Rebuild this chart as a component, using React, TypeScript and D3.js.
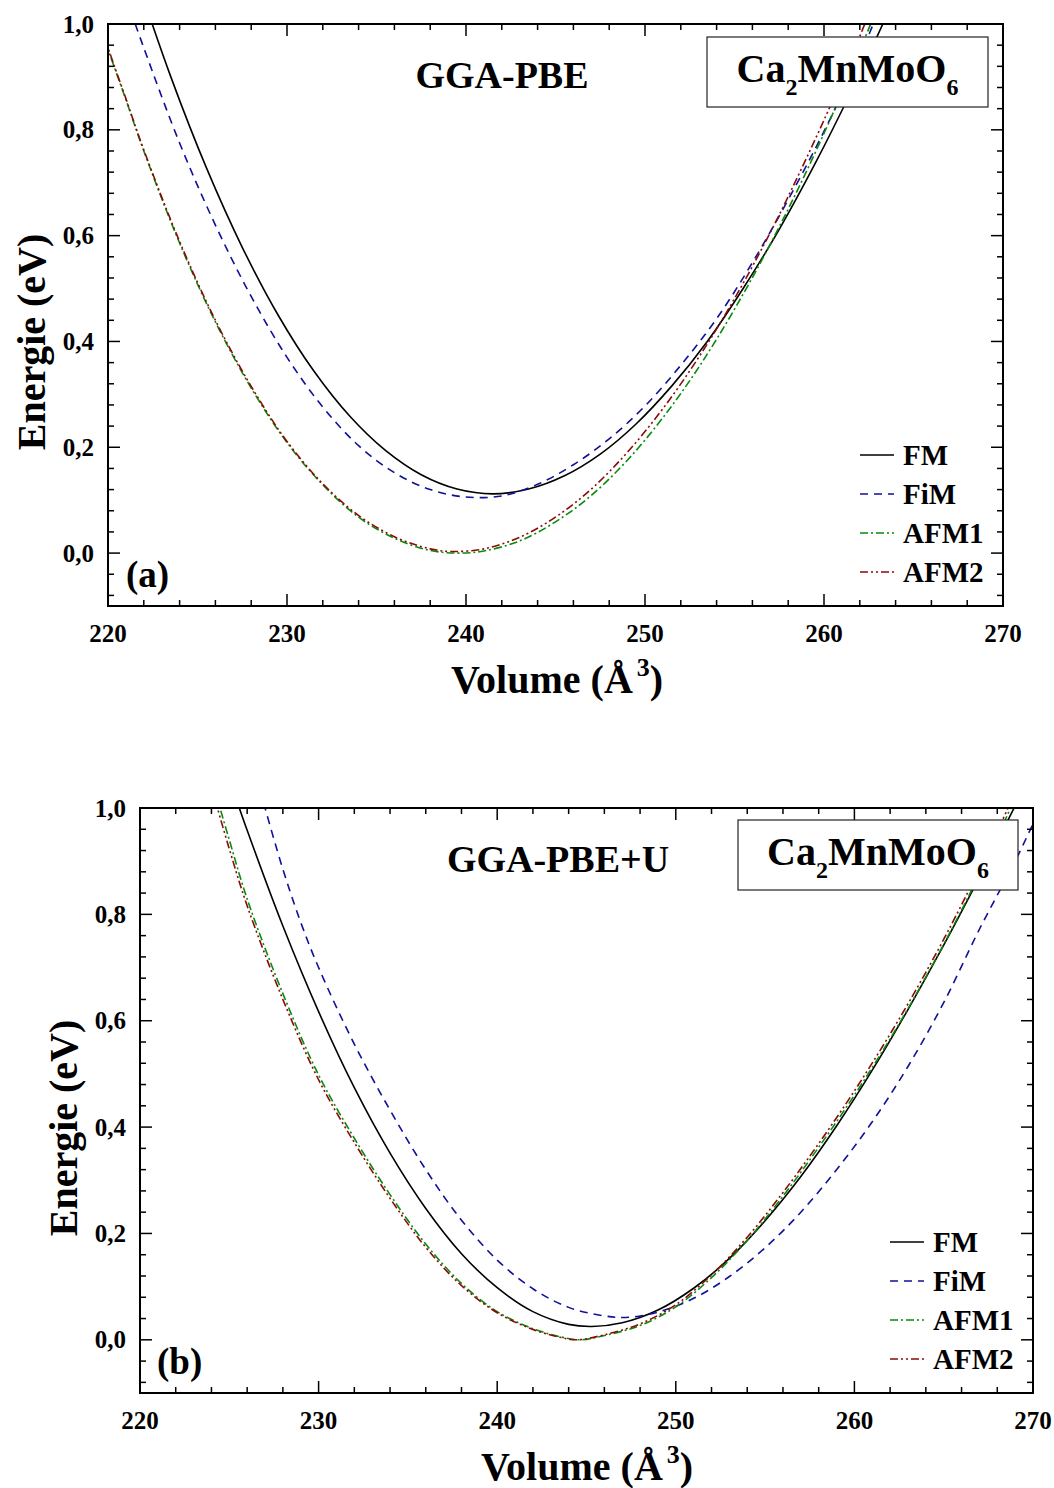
import React from 'react';
import * as d3 from 'd3';

const xTickValues = [220, 230, 240, 250, 260, 270];
const xTickLabels = ['220', '230', '240', '250', '260', '270'];
const yTickValues = [0, 0.2, 0.4, 0.6, 0.8, 1.0];
const yTickLabels = ['0,0', '0,2', '0,4', '0,6', '0,8', '1,0'];
const seriesNames = ['FM', 'FiM', 'AFM1', 'AFM2'];

// Panel (a): GGA-PBE
const volA_FM = [221.5, 223.5, 225.5, 227.5, 229.5, 231.5, 233.5, 235.5, 237.5, 239.5, 241.5, 243.5, 245.5, 247.5, 249.5, 251.5, 253.5, 255.5, 257.5, 259.5, 261.5, 263.5, 264.5];
const enA_FM = [1.097, 0.901, 0.728, 0.578, 0.45, 0.344, 0.259, 0.194, 0.148, 0.121, 0.112, 0.121, 0.146, 0.187, 0.244, 0.316, 0.401, 0.501, 0.612, 0.736, 0.871, 1.016, 1.093];
const volA_FiM = [221, 222, 224, 226, 228, 230, 232, 234, 236, 238, 240, 242, 244, 246, 248, 250, 252, 254, 256, 258, 260, 262, 263, 264];
const enA_FiM = [1.05, 0.955, 0.775, 0.62, 0.485, 0.37, 0.276, 0.203, 0.152, 0.12, 0.106, 0.108, 0.13, 0.167, 0.216, 0.278, 0.355, 0.443, 0.549, 0.668, 0.797, 0.94, 1.02, 1.1];
const volA_AFM1 = [219, 220, 221, 222, 224, 226, 228, 230, 232, 234, 236, 238, 239.6, 241, 243, 245, 247, 249, 251, 253, 255, 257, 259, 261, 263, 264];
const enA_AFM1 = [1.05, 0.952, 0.857, 0.76, 0.586, 0.437, 0.312, 0.209, 0.129, 0.068, 0.028, 0.005, 0.0, 0.004, 0.023, 0.059, 0.109, 0.175, 0.256, 0.351, 0.461, 0.584, 0.72, 0.87, 1.033, 1.12];
const volA_AFM2 = [219, 220, 221, 222, 224, 226, 228, 230, 232, 234, 236, 238, 239.2, 241, 243, 245, 247, 249, 251, 253, 255, 257, 259, 261, 263, 264];
const enA_AFM2 = [1.055, 0.955, 0.859, 0.762, 0.589, 0.44, 0.315, 0.211, 0.131, 0.071, 0.031, 0.008, 0.003, 0.008, 0.03, 0.068, 0.121, 0.19, 0.273, 0.37, 0.481, 0.606, 0.745, 0.895, 1.06, 1.14];

// Panel (b): GGA-PBE+U
const volB_FM = [224.5, 225, 226, 228, 230, 232, 234, 236, 238, 240, 242, 244, 245.3, 247, 249, 251, 253, 255, 257, 259, 261, 263, 265, 267, 269, 270];
const enB_FM = [1.1, 1.054, 0.958, 0.778, 0.617, 0.474, 0.351, 0.247, 0.162, 0.098, 0.053, 0.029, 0.025, 0.032, 0.056, 0.097, 0.153, 0.224, 0.307, 0.402, 0.507, 0.621, 0.742, 0.87, 1.004, 1.07];
const volB_FiM = [226.5, 227, 228, 229, 230, 232, 234, 236, 238, 240, 242, 244, 246, 247.2, 249, 251, 253, 255, 257, 259, 261, 263, 265, 267, 269, 270, 271];
const enB_FiM = [1.06, 1.0, 0.885, 0.785, 0.7, 0.556, 0.432, 0.32, 0.225, 0.15, 0.096, 0.061, 0.045, 0.042, 0.052, 0.078, 0.119, 0.173, 0.24, 0.32, 0.41, 0.514, 0.634, 0.772, 0.9, 0.97, 1.04];
const volB_AFM1 = [223.5, 224, 225, 226, 228, 230, 232, 234, 236, 238, 240, 242, 243.5, 244.6, 246, 248, 250, 252, 254, 256, 258, 260, 262, 264, 266, 268, 269];
const enB_AFM1 = [1.11, 1.055, 0.94, 0.829, 0.651, 0.498, 0.379, 0.273, 0.18, 0.106, 0.053, 0.021, 0.006, 0.0, 0.008, 0.027, 0.062, 0.117, 0.187, 0.27, 0.362, 0.46, 0.566, 0.682, 0.808, 0.945, 1.02];
const volB_AFM2 = [223.5, 224, 225, 226, 228, 230, 232, 234, 236, 238, 240, 242, 243.5, 244.45, 246, 248, 250, 252, 254, 256, 258, 260, 262, 264, 266, 268, 269];
const enB_AFM2 = [1.09, 1.038, 0.923, 0.816, 0.64, 0.489, 0.371, 0.266, 0.174, 0.102, 0.051, 0.0195, 0.005, 0.0, 0.0095, 0.03, 0.066, 0.122, 0.193, 0.277, 0.369, 0.468, 0.575, 0.691, 0.818, 0.956, 1.03];

const FONT = "'Liberation Serif', 'Times New Roman', serif";

const styles: Record<string, { color: string; dash: string }> = {
  FM: { color: '#000000', dash: '' },
  FiM: { color: '#10109a', dash: '8,6' },
  AFM1: { color: '#0a8a0a', dash: '8,3,2,3' },
  AFM2: { color: '#8a0a0a', dash: '8,3,2,3,2,3' },
};

type PanelProps = {
  id: string;
  left: number; right: number; top: number; bottom: number;
  series: { name: string; vol: number[]; en: number[] }[];
  title: string; titleX: number; titleY: number;
  box: { x0: number; y0: number; x1: number; y1: number };
  letter: string; letterX: number; letterY: number;
  legendLineX: number; legendRows: number[];
  xTitleX: number; xTitleY: number;
  yTitleX: number; yTitleY: number;
};

function Panel(p: PanelProps) {
  const x = d3.scaleLinear().domain([220, 270]).range([p.left, p.right]);
  const y = d3.scaleLinear().domain([-0.1, 1.0]).range([p.bottom, p.top]);
  const line = d3
    .line<[number, number]>()
    .x((d) => x(d[0]))
    .y((d) => y(d[1]))
    .curve(d3.curveCatmullRom.alpha(0.5));
  const xMinor = d3.range(220, 270.001, 2);
  const yMinor = d3.range(-0.08, 1.0001, 0.04);
  const MAJ = 12;
  const MIN = 6;
  const boxCx = (p.box.x0 + p.box.x1) / 2;
  return (
    <g>
      <defs>
        <clipPath id={`clip-${p.id}`}>
          <rect x={p.left} y={p.top} width={p.right - p.left} height={p.bottom - p.top} />
        </clipPath>
      </defs>
      <g clipPath={`url(#clip-${p.id})`}>
        {p.series.map((s) => (
          <path
            key={s.name}
            d={line(s.vol.map((v, i) => [v, s.en[i]] as [number, number])) || ''}
            fill="none"
            stroke={styles[s.name].color}
            strokeWidth={1.6}
            strokeDasharray={styles[s.name].dash || undefined}
          />
        ))}
      </g>
      {/* ticks */}
      <g stroke="#000" strokeWidth={1.5}>
        {xMinor.map((v) => {
          const major = Math.abs((v - 220) % 10) < 1e-6;
          const len = major ? MAJ : MIN;
          return (
            <g key={`xm${v}`}>
              <line x1={x(v)} x2={x(v)} y1={p.bottom} y2={p.bottom - len} />
              <line x1={x(v)} x2={x(v)} y1={p.top} y2={p.top + len} />
            </g>
          );
        })}
        {yMinor.map((v) => {
          const major = Math.abs(Math.round(v / 0.2) * 0.2 - v) < 1e-6;
          const len = major ? MAJ : MIN;
          return (
            <g key={`ym${v.toFixed(2)}`}>
              <line x1={p.left} x2={p.left + len} y1={y(v)} y2={y(v)} />
              <line x1={p.right} x2={p.right - len} y1={y(v)} y2={y(v)} />
            </g>
          );
        })}
      </g>
      <rect x={p.left} y={p.top} width={p.right - p.left} height={p.bottom - p.top} fill="none" stroke="#000" strokeWidth={2} />
      {/* tick labels */}
      <g fontFamily={FONT} fontWeight="bold" fontSize={25} fill="#000">
        {xTickValues.map((v, i) => (
          <text key={`xl${v}`} x={x(v)} y={p.bottom + 36} textAnchor="middle">{xTickLabels[i]}</text>
        ))}
        {yTickValues.map((v, i) => (
          <text key={`yl${v}`} x={p.left - 14} y={y(v) + 8.5} textAnchor="end">{yTickLabels[i]}</text>
        ))}
      </g>
      {/* axis titles */}
      <text x={p.xTitleX} y={p.xTitleY} fontFamily={FONT} fontWeight="bold" fontSize={40} textAnchor="middle">
        <tspan>Volume (Å</tspan>
        <tspan dx={4} dy={-17} fontSize={26}>3</tspan>
        <tspan dy={17}>)</tspan>
      </text>
      <text
        transform={`translate(${p.yTitleX},${p.yTitleY}) rotate(-90)`}
        fontFamily={FONT}
        fontWeight="bold"
        fontSize={40}
        textAnchor="middle"
      >
        Energie (eV)
      </text>
      {/* panel title */}
      <text x={p.titleX} y={p.titleY} fontFamily={FONT} fontWeight="bold" fontSize={38} textAnchor="middle">
        {p.title}
      </text>
      {/* compound box */}
      <rect x={p.box.x0} y={p.box.y0} width={p.box.x1 - p.box.x0} height={p.box.y1 - p.box.y0} fill="#fff" stroke="#222" strokeWidth={1.2} />
      <text x={boxCx} y={p.box.y0 + 45} fontFamily={FONT} fontWeight="bold" fontSize={40} textAnchor="middle">
        <tspan>Ca</tspan>
        <tspan dy={13} fontSize={24}>2</tspan>
        <tspan dy={-13}>MnMoO</tspan>
        <tspan dy={13} fontSize={24}>6</tspan>
      </text>
      {/* panel letter */}
      <text x={p.letterX} y={p.letterY} fontFamily={FONT} fontWeight="bold" fontSize={37}>
        {p.letter}
      </text>
      {/* legend */}
      {seriesNames.map((name, i) => (
        <g key={`lg${name}`}>
          <line
            x1={p.legendLineX}
            x2={p.legendLineX + 34}
            y1={p.legendRows[i]}
            y2={p.legendRows[i]}
            stroke={styles[name].color}
            strokeWidth={1.6}
            strokeDasharray={styles[name].dash || undefined}
          />
          <text x={p.legendLineX + 43} y={p.legendRows[i] + 10} fontFamily={FONT} fontWeight="bold" fontSize={29}>
            {name}
          </text>
        </g>
      ))}
    </g>
  );
}

export default function App() {
  const seriesA = [
    { name: 'FM', vol: volA_FM, en: enA_FM },
    { name: 'FiM', vol: volA_FiM, en: enA_FiM },
    { name: 'AFM1', vol: volA_AFM1, en: enA_AFM1 },
    { name: 'AFM2', vol: volA_AFM2, en: enA_AFM2 },
  ];
  const seriesB = [
    { name: 'FM', vol: volB_FM, en: enB_FM },
    { name: 'FiM', vol: volB_FiM, en: enB_FiM },
    { name: 'AFM1', vol: volB_AFM1, en: enB_AFM1 },
    { name: 'AFM2', vol: volB_AFM2, en: enB_AFM2 },
  ];
  return (
    <svg
      width={1054}
      height={1488}
      style={{ position: 'absolute', left: 0, top: 0, background: '#fff' }}
    >
      <rect x={0} y={0} width={1054} height={1488} fill="#fff" />
      <Panel
        id="a"
        left={108} right={1003} top={24} bottom={606}
        series={seriesA}
        title="GGA-PBE" titleX={502} titleY={88}
        box={{ x0: 707, y0: 37, x1: 988, y1: 107 }}
        letter="(a)" letterX={126} letterY={587}
        legendLineX={860} legendRows={[455, 494, 533, 572]}
        xTitleX={557} xTitleY={693}
        yTitleX={45} yTitleY={342}
      />
      <Panel
        id="b"
        left={140} right={1033} top={808} bottom={1393}
        series={seriesB}
        title="GGA-PBE+U" titleX={558} titleY={872}
        box={{ x0: 738, y0: 820, x1: 1018, y1: 890 }}
        letter="(b)" letterX={157} letterY={1374}
        legendLineX={890} legendRows={[1242, 1281, 1320, 1359]}
        xTitleX={587} xTitleY={1480}
        yTitleX={77} yTitleY={1128}
      />
    </svg>
  );
}
